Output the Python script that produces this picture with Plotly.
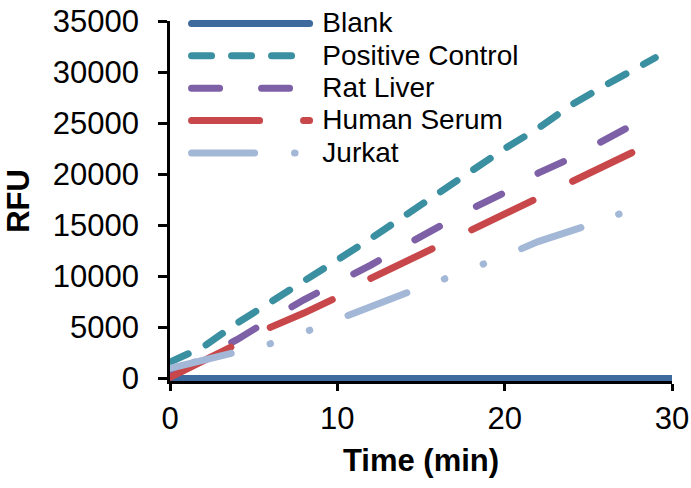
import plotly.graph_objects as go

# ---- data ----
blank_t = [0, 5, 10, 15, 20, 25, 30]
blank_v = [0, 0, 0, 0, 0, 0, 0]

pos_t = [0, 2, 4, 6, 8, 10, 12, 14, 16, 18, 20, 22, 24, 26, 28, 29]
pos_v = [1600, 3100, 5400, 7400, 9500, 11600, 13700, 15900, 18200, 20400,
         22500, 24500, 26800, 28700, 30600, 31400]

rat_t = [0, 2, 4, 6, 8, 10, 12, 14, 16, 18, 20, 22, 24, 26, 27.5]
rat_v = [300, 2000, 3800, 5800, 7700, 9400, 11100, 13000, 14800, 16600,
         18200, 20100, 21600, 23300, 24700]

hum_t = [0, 2, 4, 6, 8, 10, 12, 14, 16, 18, 20, 22, 24, 26, 27.6]
hum_v = [100, 1700, 3400, 5000, 6400, 7950, 9800, 11400, 12900, 14600,
         16200, 17700, 19400, 20900, 22100]

jur_t = [0, 2, 4, 6, 8, 10, 12, 14, 16, 18, 20, 22, 24, 26, 28]
jur_v = [1000, 1800, 2450, 3400, 4500, 5800, 7100, 8300, 9500, 10700,
         12000, 13400, 14500, 15550, 16870]

y_ticks = [0, 5000, 10000, 15000, 20000, 25000, 30000, 35000]
x_ticks = [0, 10, 20, 30]

series = [
    ("Blank", blank_t, blank_v, "#3F6A9E", "solid"),
    ("Positive Control", pos_t, pos_v, "#3A8FA0", "20px,20px"),
    ("Rat Liver", rat_t, rat_v, "#7E60A6", "28px,42px"),
    ("Human Serum", hum_t, hum_v, "#C8474A", "68px,44px"),
    ("Jurkat", jur_t, jur_v, "#A3B7D6", "63px,40px,0.5px,41px,0.5px,41px"),
]

FONT = "Liberation Sans, Arial, sans-serif"

fig = go.Figure()
for name, t, v, col, dash in series:
    fig.add_trace(go.Scatter(
        x=t, y=v, mode="lines",
        name='<span style="font-size:28px">\u00a0' + name + '</span>',
        line=dict(color=col, width=7, dash=dash),
    ))

fig.update_layout(
    width=691, height=488,
    margin=dict(l=170, r=19, t=21, b=107, autoexpand=False),
    paper_bgcolor="white", plot_bgcolor="white",
    font=dict(family=FONT, size=31, color="black"),
    showlegend=True,
    legend=dict(
        x=0.033, y=1.052, xanchor="left", yanchor="top",
        bgcolor="rgba(0,0,0,0)", borderwidth=0,
        font=dict(family=FONT, size=22.6, color="black"),
        itemwidth=118, tracegroupgap=0,
    ),
    xaxis=dict(
        range=[0, 30], tickvals=x_ticks,
        showgrid=False, zeroline=False,
        showline=True, linecolor="black", linewidth=2.5,
        ticks="outside", ticklen=7, tickwidth=2.5, tickcolor="black",
        ticklabelstandoff=1,
        tickfont=dict(family=FONT, size=31, color="black"),
        title=dict(text="<b>Time (min)</b>", font=dict(family=FONT, size=31, color="black"), standoff=15),
    ),
    yaxis=dict(
        range=[-250, 35000], tickvals=y_ticks,
        tickformat="d",
        showgrid=False, zeroline=False,
        showline=True, linecolor="black", linewidth=2.5,
        ticks="outside", ticklen=9, tickwidth=2.5, tickcolor="black",
        ticklabelstandoff=13,
        tickfont=dict(family=FONT, size=31, color="black"),
        title=dict(text="<b>RFU</b>", font=dict(family=FONT, size=31, color="black"), standoff=14),
    ),
)

post = """
document.body.style.margin = '0';
var gd = document.getElementById('{plot_id}');
gd.querySelectorAll('path.js-line').forEach(function(p){ p.style.strokeLinecap = 'round'; });
"""
fig.write_html("out.html", post_script=post, config={"displayModeBar": False})
